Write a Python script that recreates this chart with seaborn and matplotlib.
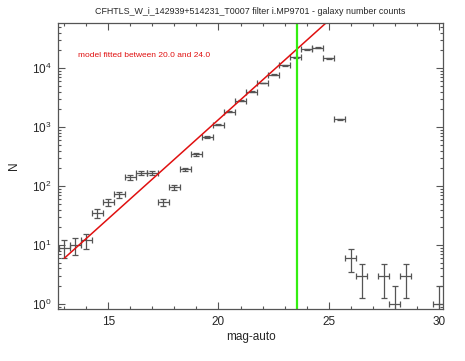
import numpy as np
import pandas as pd
import matplotlib
matplotlib.use("Agg")
import matplotlib.pyplot as plt
import seaborn as sns
from matplotlib.ticker import MultipleLocator, LogLocator

# galaxy number counts per 0.5 mag bin
mag = [13.0, 13.5, 14.0, 14.5, 15.0, 15.5, 16.0, 16.5, 17.0, 17.5, 18.0, 18.5,
       19.0, 19.5, 20.0, 20.5, 21.0, 21.5, 22.0, 22.5, 23.0, 23.5, 24.0, 24.5,
       25.0, 25.5, 26.0, 26.5, 27.5, 28.0, 28.5, 30.0]
counts = [9, 10, 12, 35, 53, 72, 140, 168, 168, 54, 95, 192,
          344, 670, 1100, 1820, 2800, 3960, 5600, 7800, 11200, 15200, 20800, 22400,
          14600, 1350, 6, 3, 3, 1, 3, 1]
bin_half = 0.25

# linear model in log N, fitted between 20 and 24
fit_slope = 0.336
fit_intercept = -3.593
fit_mags = [13.0, 30.0]
mag_limit = 23.55

title = "CFHTLS_W_i_142939+514231_T0007 filter i.MP9701 - galaxy number counts"
fit_label = "model fitted between 20.0 and 24.0"

sns.set_style("ticks")
plt.rcParams['font.family'] = ['Liberation Sans', 'DejaVu Sans']
plt.rcParams['mathtext.fontset'] = 'custom'
plt.rcParams['mathtext.rm'] = 'Liberation Sans'
plt.rcParams['mathtext.default'] = 'regular'

df = pd.DataFrame({'mag': mag, 'N': counts})
df['err'] = np.sqrt(df['N'])
fit = pd.DataFrame({'mag': fit_mags})
fit['N'] = 10 ** (fit_intercept + fit_slope * fit['mag'])

fig = plt.figure(figsize=(4.65, 3.61), dpi=100)
ax = fig.add_axes([0.125, 0.144, 0.828, 0.793])

gray = '#555555'
ax.errorbar(df['mag'], df['N'], xerr=bin_half, yerr=df['err'], fmt='none',
            ecolor=gray, elinewidth=0.9, capsize=2.2, capthick=0.9)
sns.lineplot(data=fit, x='mag', y='N', color='#e01010', linewidth=1.1, ax=ax)
ax.axvline(mag_limit, color='#33ee11', linewidth=1.6)

ax.set_yscale('log')
ax.set_xlim(12.72, 30.2)
ax.set_ylim(0.82, 5.9e4)
ax.xaxis.set_major_locator(MultipleLocator(5))
ax.xaxis.set_minor_locator(MultipleLocator(1))
ax.yaxis.set_major_locator(LogLocator(base=10, numticks=10))
ax.yaxis.set_minor_locator(LogLocator(base=10, subs=np.arange(2, 10), numticks=20))

ax.tick_params(which='both', direction='in', top=True, right=True, color=gray,
               width=0.8, labelsize=8.5, pad=5)
ax.tick_params(which='major', length=5)
ax.tick_params(which='minor', length=2.5)
for s in ax.spines.values():
    s.set_color(gray)
    s.set_linewidth(0.9)

ax.set_xlabel('mag-auto', fontsize=8.5, labelpad=2)
ax.set_ylabel('N', fontsize=8.5, labelpad=8)
ax.set_title(title, fontsize=6.4, pad=6)
ax.text(0.051, 0.88, fit_label, transform=ax.transAxes, color='#e01010', fontsize=6)

fig.savefig('out.png', dpi=100)
